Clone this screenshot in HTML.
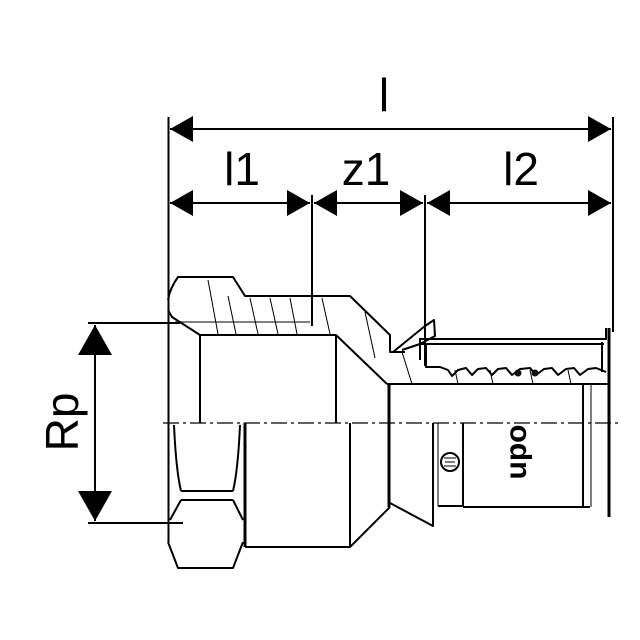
<!DOCTYPE html>
<html><head><meta charset="utf-8"><style>
html,body{margin:0;padding:0;background:#fff;}
svg{display:block;}
text{font-family:"Liberation Sans",Arial,sans-serif;fill:#000;}
</style></head><body>
<svg width="640" height="640" viewBox="0 0 640 640" xmlns="http://www.w3.org/2000/svg">
<rect width="640" height="640" fill="#fff"/>
<g stroke="#000" fill="none" stroke-width="2">
<line x1="168.5" y1="117" x2="168.5" y2="292"/>
<line x1="613" y1="117" x2="613" y2="332"/>
<line x1="312" y1="195" x2="312" y2="326"/>
<line x1="425" y1="195" x2="425" y2="366"/>
<line x1="170" y1="129" x2="611" y2="129"/>
<line x1="170" y1="203" x2="310" y2="203"/>
<line x1="314" y1="203" x2="423" y2="203"/>
<line x1="427" y1="203" x2="611" y2="203"/>
<line x1="88" y1="323" x2="180" y2="323"/>
<line x1="88" y1="523" x2="180" y2="523"/>
<line x1="95" y1="325" x2="95" y2="521"/>
</g>
<g fill="#000">
<polygon points="170,129 193,116 193,142"/>
<polygon points="611,129 588,116 588,142"/>
<polygon points="170,203 193,190 193,216"/>
<polygon points="310,203 287,190 287,216"/>
<polygon points="314,203 337,190 337,216"/>
<polygon points="423,203 400,190 400,216"/>
<polygon points="427,203 450,190 450,216"/>
<polygon points="611,203 588,190 588,216"/>
<polygon points="95,325 78,355 112,355"/>
<polygon points="95,521 78,491 112,491"/>
</g>
<text x="384" y="111" font-size="46" text-anchor="middle">l</text>
<text x="242" y="185" font-size="46" text-anchor="middle">l1</text>
<text x="366" y="185" font-size="46" text-anchor="middle">z1</text>
<text x="521" y="185" font-size="46" text-anchor="middle">l2</text>
<text x="0" y="0" font-size="46" text-anchor="middle" transform="translate(78,422) rotate(-90)">Rp</text>

<g stroke="#000" fill="none" stroke-width="2" stroke-linejoin="round">
<path d="M168,300 Q170,288 178,277 L233,277 L245,296 L350,296 L390,335 L390,352 L405,352"/>
<path d="M168,310 L172,317 L200,335 L336,335 L387,384"/>
<line x1="200" y1="335" x2="200" y2="423"/>
<line x1="336" y1="335" x2="336" y2="423"/>
<line x1="168.5" y1="292" x2="168.5" y2="542"/>
<path d="M393,352 L425,326 L434,320 L435,336 L420,344 L402,350"/>
<path d="M420,338 L420,360"/>
<path d="M420,339 L606,339 L606,328"/>
<line x1="420" y1="344" x2="604" y2="344"/>
<path d="M426,344 L426,367 L440,367 L448,370 L452,376 L458,370 L466,368 L472,375 L478,369 L486,368 L492,375 L498,369 L506,368 L512,375 L520,369 L530,368 L536,375 L544,369 L552,368 L558,375 L566,369 L574,368 L580,375 L588,369 L596,368 L606,372"/>
<line x1="602" y1="342" x2="602" y2="372"/>
<line x1="387" y1="384" x2="610" y2="384"/>
<line x1="389" y1="384" x2="389" y2="507" stroke-width="3"/>
<line x1="609" y1="328" x2="609" y2="517" stroke-width="3"/>
<line x1="583" y1="384" x2="583" y2="507"/>
<line x1="591" y1="384" x2="591" y2="507" stroke-width="1"/>
<path d="M390,503 L433,526 L433,423"/>
<line x1="438" y1="423" x2="438" y2="506" stroke-width="1"/>
<path d="M438,506 L463,506 L463,423"/>
<line x1="463" y1="507" x2="590" y2="507"/>
<path d="M168,542 L178,568 L233,568 L243,542"/>
<line x1="245" y1="423" x2="245" y2="547" stroke-width="3"/>
<path d="M245,547 L350,547 L390,507"/>
<line x1="350" y1="423" x2="350" y2="547"/>
<path d="M174,425 Q176,470 181,491"/>
<path d="M240,425 Q238,470 233,491"/>
<line x1="181" y1="491" x2="233" y2="491"/>
<line x1="181" y1="500" x2="233" y2="500"/>
<path d="M181,500 L170,520"/>
<path d="M233,500 L243,520"/>
<line x1="160" y1="523" x2="183" y2="523"/>
<circle cx="450" cy="462" r="9"/>
</g>
<g stroke="#000" stroke-width="1" fill="none">
<line x1="175" y1="322" x2="310" y2="322"/>
<line x1="208" y1="280" x2="218" y2="334"/>
<line x1="228" y1="296" x2="236" y2="334"/>
<line x1="250" y1="298" x2="258" y2="334"/>
<line x1="270" y1="298" x2="278" y2="334"/>
<line x1="290" y1="298" x2="297" y2="334"/>
<line x1="322" y1="298" x2="330" y2="334"/>
<line x1="365" y1="312" x2="375" y2="358"/>
<line x1="402" y1="352" x2="412" y2="384"/>
<line x1="455" y1="370" x2="458" y2="384"/>
<line x1="490" y1="370" x2="493" y2="384"/>
<line x1="530" y1="370" x2="533" y2="384"/>
<line x1="568" y1="370" x2="571" y2="384"/>
<line x1="445" y1="462" x2="455" y2="462"/>
<line x1="444" y1="466" x2="456" y2="466"/>
<line x1="444" y1="458" x2="456" y2="458"/>
</g>
<g fill="#111">
<circle cx="518" cy="373" r="3.5"/>
<circle cx="535" cy="373" r="3.5"/>
</g>
<line x1="163" y1="423" x2="622" y2="423" stroke="#000" stroke-width="1.2" stroke-dasharray="16,4,3,4"/>
<text x="0" y="0" font-size="30" font-weight="bold" text-anchor="middle" transform="translate(526,452) rotate(-90)">upo</text>
</svg>
</body></html>
